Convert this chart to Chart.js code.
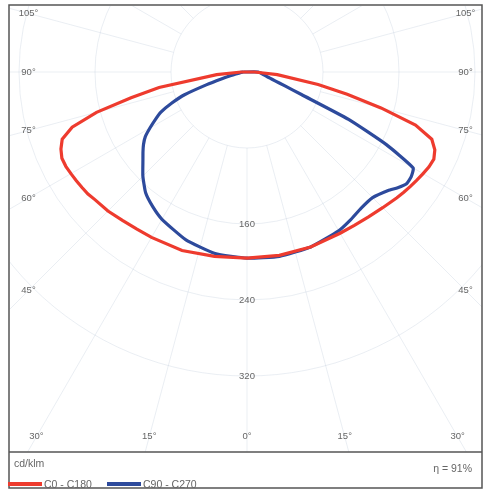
<!DOCTYPE html>
<html>
<head>
<meta charset="utf-8">
<script src="https://cdn.jsdelivr.net/npm/chart.js@4"></script>
<style>
  body { margin: 0; background: #fff; }
  #wrap { width: 487px; height: 491px; }
</style>
</head>
<body>
<div id="wrap"><canvas id="polar-chart"></canvas></div>
<script>
// gamma angles (degrees from nadir)
const angles = [0, 10, 20, 30, 35, 40, 45, 50, 52.5, 55, 57.5, 60, 62.5, 65, 67.5, 70, 72.5, 75, 77.5, 80, 85, 90];

// intensities cd/klm, one array per half plane
const c0 = [196, 196, 196, 196, 197, 199, 202, 206, 208, 210, 212, 214, 216, 217, 214, 207, 186, 146, 108, 76, 32, 8];
const c180 = [196, 197, 200, 201, 202, 204, 207, 209, 211, 212, 213, 214, 215, 215, 212, 207, 193, 164, 125, 94, 32, 6];
const c90 = [196, 197, 196, 193, 190, 187, 187, 194, 200, 205, 205, 202, 165, 118, 62, 42, 31, 25, 21, 18, 15, 12];
const c270 = [196, 194, 188, 179, 173, 166, 155, 143, 138, 133, 127, 118, 109, 100, 86, 70, 45, 28, 18, 12, 7, 4];

const radialTicks = [80, 160, 240, 320];
const radialLabels = [160, 240, 320];
const angleLabels = [105, 90, 75, 60, 45, 30, 15, 0];
const seriesNames = ["C0 - C180", "C90 - C270"];
const efficiency = "η = 91%";
const unitText = "cd/klm";

const rad = (a) => a * Math.PI / 180;

// left half goes 90 -> 0, right half 0 -> 90, then back to start
function buildCurve(leftVals, rightVals) {
    const pts = [];
    for (let i = angles.length - 1; i >= 0; i--) {
        const a = rad(angles[i]);
        pts.push({ x: -leftVals[i] * Math.sin(a), y: -leftVals[i] * Math.cos(a) });
    }
    for (let i = 1; i < angles.length; i++) {
        const a = rad(angles[i]);
        pts.push({ x: rightVals[i] * Math.sin(a), y: -rightVals[i] * Math.cos(a) });
    }
    pts.push(pts[0]);
    return pts;
}

const gridColor = "rgba(185,198,214,0.3)";
const textColor = "#666";
const fontFam = "'Liberation Sans', Arial, sans-serif";

const polarGrid = {
    id: "polarGrid",
    beforeDatasetsDraw(chart) {
        const ctx = chart.ctx;
        const xs = chart.scales.x;
        const ys = chart.scales.y;
        const area = chart.chartArea;
        const cx = xs.getPixelForValue(0);
        const cy = ys.getPixelForValue(0);
        ctx.save();
        ctx.beginPath();
        ctx.rect(area.left, area.top, area.right - area.left, area.bottom - area.top);
        ctx.clip();
        ctx.strokeStyle = gridColor;
        ctx.lineWidth = 1;
        radialTicks.forEach((r) => {
            const rp = xs.getPixelForValue(r) - cx;
            ctx.beginPath();
            ctx.arc(cx, cy, rp, 0, Math.PI * 2);
            ctx.stroke();
        });
        for (let a = 0; a < 360; a += 15) {
            const r0 = xs.getPixelForValue(80) - cx;
            const r1 = xs.getPixelForValue(600) - cx;
            const s = Math.sin(rad(a));
            const c = Math.cos(rad(a));
            ctx.beginPath();
            ctx.moveTo(cx + s * r0, cy + c * r0);
            ctx.lineTo(cx + s * r1, cy + c * r1);
            ctx.stroke();
        }
        ctx.restore();
    },
    afterDraw(chart) {
        const ctx = chart.ctx;
        const xs = chart.scales.x;
        const ys = chart.scales.y;
        const area = chart.chartArea;
        ctx.save();

        // frame
        ctx.strokeStyle = "#555";
        ctx.lineWidth = 1.5;
        ctx.strokeRect(9, 5, 473, 483);
        ctx.beginPath();
        ctx.moveTo(9, area.bottom);
        ctx.lineTo(482, area.bottom);
        ctx.stroke();

        // intensity labels
        ctx.fillStyle = textColor;
        ctx.font = "9.5px " + fontFam;
        ctx.textAlign = "center";
        ctx.textBaseline = "middle";
        radialLabels.forEach((r) => {
            ctx.fillText(String(r), xs.getPixelForValue(0), ys.getPixelForValue(-r));
        });

        // angle labels where the rays meet an inner box
        const xLim = 230;
        const yLim = 384;
        angleLabels.forEach((a) => {
            const sides = a === 0 ? [1] : [-1, 1];
            sides.forEach((side) => {
                const dx = side * Math.sin(rad(a));
                const dy = -Math.cos(rad(a));
                let t = Infinity;
                if (Math.abs(dx) > 1e-6) t = Math.min(t, xLim / Math.abs(dx));
                if (dy < -1e-6) t = Math.min(t, yLim / -dy);
                ctx.fillText(a + "°", xs.getPixelForValue(dx * t), ys.getPixelForValue(dy * t));
            });
        });

        // legend
        ctx.textAlign = "left";
        ctx.font = "10.5px " + fontFam;
        ctx.fillText(unitText, 14, 464);
        const ds = chart.data.datasets;
        const legendX = [8, 107];
        ds.forEach((d, i) => {
            ctx.strokeStyle = d.borderColor;
            ctx.lineWidth = 4;
            ctx.beginPath();
            ctx.moveTo(legendX[i], 484);
            ctx.lineTo(legendX[i] + 34, 484);
            ctx.stroke();
            ctx.fillStyle = textColor;
            ctx.fillText(d.label, legendX[i] + 36, 485);
        });
        ctx.textAlign = "right";
        ctx.fillText(efficiency, 472, 469);
        ctx.restore();
    }
};

const bgPlugin = {
    id: "bg",
    beforeDraw(chart) {
        const ctx = chart.ctx;
        ctx.save();
        ctx.fillStyle = "#fff";
        ctx.fillRect(0, 0, chart.width, chart.height);
        ctx.restore();
    }
};

const pxPerUnit = 0.95;
const centerX = 247;
const centerY = 72;
const areaBox = { left: 10, top: 6, right: 482, bottom: 452 };

const containerPolar = document.getElementById("polar-chart").getContext("2d");
const polarChart = new Chart(containerPolar, {
    type: "scatter",
    data: {
        datasets: [
            {
                label: seriesNames[0],
                data: buildCurve(c180, c0),
                showLine: true,
                borderColor: "#ee3b2e",
                borderWidth: 3.2,
                pointRadius: 0,
                tension: 0,
                fill: false,
            },
            {
                label: seriesNames[1],
                data: buildCurve(c270, c90),
                showLine: true,
                borderColor: "#2d4a9c",
                borderWidth: 3.2,
                pointRadius: 0,
                tension: 0.15,
                fill: false,
            },
        ],
    },
    options: {
        responsive: true,
        maintainAspectRatio: false,
        animation: false,
        layout: {
            padding: {
                left: areaBox.left,
                top: areaBox.top,
                right: 487 - areaBox.right,
                bottom: 491 - areaBox.bottom,
            },
        },
        scales: {
            x: {
                type: "linear",
                display: false,
                min: -(centerX - areaBox.left) / pxPerUnit,
                max: (areaBox.right - centerX) / pxPerUnit,
            },
            y: {
                type: "linear",
                display: false,
                min: -(areaBox.bottom - centerY) / pxPerUnit,
                max: (centerY - areaBox.top) / pxPerUnit,
            },
        },
        plugins: {
            legend: { display: false },
            tooltip: { enabled: false },
        },
    },
    plugins: [bgPlugin, polarGrid],
});
</script>
</body>
</html>
